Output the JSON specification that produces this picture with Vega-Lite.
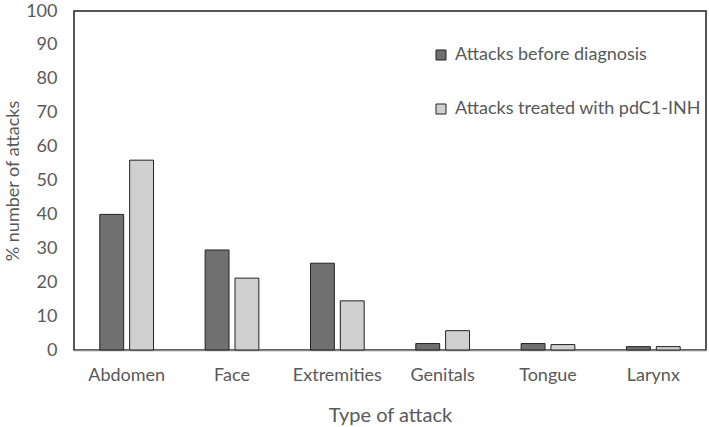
{
  "$schema": "https://vega.github.io/schema/vega-lite/v6.json",
  "autosize": {"type": "none"},
  "width": 632,
  "height": 339,
  "padding": {"left": 74, "top": 11, "right": 3, "bottom": 77},
  "background": "white",
  "config": {
    "view": {"stroke": "#222222", "strokeWidth": 1.5},
    "font": "Lato"
  },
  "data": {
    "values": [
      {"type": "Abdomen", "series": "Attacks before diagnosis", "pct": 40.0},
      {"type": "Abdomen", "series": "Attacks treated with pdC1-INH", "pct": 56.0},
      {"type": "Face", "series": "Attacks before diagnosis", "pct": 29.5},
      {"type": "Face", "series": "Attacks treated with pdC1-INH", "pct": 21.2},
      {"type": "Extremities", "series": "Attacks before diagnosis", "pct": 25.6},
      {"type": "Extremities", "series": "Attacks treated with pdC1-INH", "pct": 14.5},
      {"type": "Genitals", "series": "Attacks before diagnosis", "pct": 1.9},
      {"type": "Genitals", "series": "Attacks treated with pdC1-INH", "pct": 5.7},
      {"type": "Tongue", "series": "Attacks before diagnosis", "pct": 1.9},
      {"type": "Tongue", "series": "Attacks treated with pdC1-INH", "pct": 1.6},
      {"type": "Larynx", "series": "Attacks before diagnosis", "pct": 1.0},
      {"type": "Larynx", "series": "Attacks treated with pdC1-INH", "pct": 1.0}
    ]
  },
  "mark": {"type": "bar", "stroke": "#222222", "strokeWidth": 1},
  "encoding": {
    "x": {
      "field": "type",
      "type": "nominal",
      "sort": null,
      "scale": {"paddingInner": 0.49, "paddingOuter": 0.245},
      "axis": {
        "title": "Type of attack",
        "titleFontSize": 20,
        "titleFontWeight": "normal",
        "titleColor": "#595959",
        "titlePadding": 21,
        "labelAngle": 0,
        "labelFontSize": 18,
        "labelColor": "#595959",
        "labelPadding": 16,
        "ticks": false,
        "domainColor": "#868686",
        "domainWidth": 1.5
      }
    },
    "xOffset": {
      "field": "series",
      "type": "nominal",
      "scale": {"paddingInner": 0.2, "paddingOuter": 0}
    },
    "y": {
      "field": "pct",
      "type": "quantitative",
      "scale": {"domain": [0, 100], "nice": false},
      "axis": {
        "title": "% number of attacks",
        "titleFontSize": 18,
        "titleFontWeight": "normal",
        "titleColor": "#595959",
        "titlePadding": 3,
        "values": [0, 10, 20, 30, 40, 50, 60, 70, 80, 90, 100],
        "labelFontSize": 18,
        "labelColor": "#595959",
        "labelPadding": 17,
        "ticks": false,
        "domain": false,
        "grid": false
      }
    },
    "color": {
      "field": "series",
      "type": "nominal",
      "scale": {"range": ["#707070", "#d0d0d0"]},
      "legend": {
        "title": null,
        "orient": "none",
        "legendX": 358,
        "legendY": 35,
        "padding": 0,
        "symbolType": "square",
        "symbolSize": 100,
        "symbolStrokeColor": "#222222",
        "symbolStrokeWidth": 1,
        "labelFontSize": 18,
        "labelColor": "#595959",
        "labelOffset": 5,
        "labelLimit": 0,
        "rowPadding": 36
      }
    }
  }
}
